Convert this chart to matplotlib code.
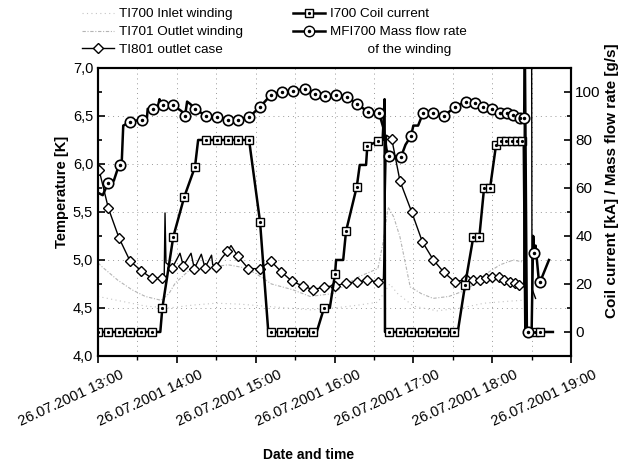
import matplotlib
matplotlib.use("Agg")
import matplotlib.pyplot as plt
from matplotlib.lines import Line2D
from matplotlib.legend_handler import HandlerTuple
from matplotlib.ticker import FuncFormatter, MultipleLocator
from matplotlib.transforms import ScaledTranslation

plt.rcParams['font.family'] = ['Liberation Sans', 'DejaVu Sans']

# time in hours after 26.07.2001 13:00
hour_ticks = [0, 1, 2, 3, 4, 5, 6]
hour_labels = ["26.07.2001 13:00", "26.07.2001 14:00", "26.07.2001 15:00",
               "26.07.2001 16:00", "26.07.2001 17:00", "26.07.2001 18:00",
               "26.07.2001 19:00"]

# MFI700 mass flow rate [g/s] (right axis)
flow_t = [0.00, 0.06, 0.127, 0.20, 0.24, 0.279, 0.30, 0.32, 0.406, 0.47, 0.558, 0.62, 0.63,
          0.698, 0.76, 0.78, 0.79, 0.825, 0.951, 1.06, 1.104, 1.13, 1.17, 1.230, 1.370, 1.510,
          1.649, 1.776, 1.916, 2.055, 2.195, 2.334, 2.474, 2.626, 2.753, 2.880, 3.019, 3.159,
          3.286, 3.425, 3.565, 3.62, 3.66, 3.692, 3.844, 3.90, 3.971, 4.00, 4.06, 4.123, 4.250,
          4.389, 4.529, 4.60, 4.668, 4.782, 4.884, 4.998, 5.100, 5.188, 5.265, 5.354, 5.405,
          5.415, 5.44, 5.455, 5.50, 5.52, 5.531, 5.55, 5.59, 5.607, 5.72]
flow_v = [58, 57, 62, 63, 67, 69.6, 70, 86, 87.5, 88, 88.5, 89, 93,
          93, 94, 97, 94, 94.5, 94.5, 92, 90, 96, 95, 93, 90, 89.5,
          88.5, 88.5, 89.5, 93.8, 98.8, 100, 100.4, 101.3, 99, 98.3, 98.8, 98,
          95, 91.7, 91.2, 85, 76, 73.3, 73, 78, 81.7, 86, 86, 91.2, 91.2,
          90, 93.8, 95, 95.8, 95.4, 93.8, 92.9, 91.2, 91.2, 90.4, 89.2, 89.2,
          115, 0, 0, 0, 40, 32.9, 36, 22, 20.8, 30]
flow_mt = [0.127, 0.279, 0.406, 0.558, 0.698, 0.825, 0.951, 1.104, 1.230, 1.370, 1.510, 1.649,
           1.776, 1.916, 2.055, 2.195, 2.334, 2.474, 2.626, 2.753, 2.880, 3.019, 3.159, 3.286,
           3.425, 3.565, 3.692, 3.844, 3.971, 4.123, 4.250, 4.389, 4.529, 4.668, 4.782, 4.884,
           4.998, 5.100, 5.188, 5.265, 5.354, 5.405, 5.455, 5.531, 5.607]
flow_mv = [62, 69.6, 87.5, 88.5, 93, 94.5, 94.5, 90, 93, 90, 89.5, 88.5,
           88.5, 89.5, 93.8, 98.8, 100, 100.4, 101.3, 99, 98.3, 98.8, 98, 95,
           91.7, 91.2, 73.3, 73, 81.7, 91.2, 91.2, 90, 93.8, 95.8, 95.4, 93.8,
           92.9, 91.2, 91.2, 90.4, 89.2, 89.2, 0, 32.9, 20.8]

# I700 coil current [kA] (right axis)
cur_t = [0.004, 0.131, 0.266, 0.406, 0.545, 0.681, 0.79, 0.816, 0.955, 1.095, 1.230, 1.27,
         1.370, 1.506, 1.645, 1.780, 1.916, 2.055, 2.16, 2.191, 2.321, 2.457, 2.597, 2.731,
         2.774, 2.867, 2.94, 3.006, 3.02, 3.11, 3.146, 3.282, 3.32, 3.40, 3.416, 3.556, 3.61,
         3.635, 3.64, 3.695, 3.831, 3.971, 4.114, 4.254, 4.389, 4.520, 4.563, 4.656, 4.761,
         4.837, 4.897, 4.973, 5.049, 5.108, 5.176, 5.248, 5.311, 5.375, 5.40, 5.42, 5.544,
         5.607, 5.77]
cur_v = [0, 0, 0, 0, 0, 0, 0, 10, 39.7, 56.4, 68.8, 80,
         80, 80, 80, 80, 80, 46, 0, 0, 0, 0, 0, 0,
         0, 10, 10, 24, 30, 30, 42, 60.5, 69.6, 69.6, 77.5, 79.6, 80,
         97, 0, 0, 0, 0, 0, 0, 0, 0, 0, 19.6, 39.7,
         39.7, 60, 60, 78, 79.6, 79.6, 79.6, 79.6, 79.6, 80, 0, 0,
         0, 0]
cur_mt = [0.004, 0.131, 0.266, 0.406, 0.545, 0.681, 0.816, 0.955, 1.095, 1.230, 1.370, 1.506,
          1.645, 1.780, 1.916, 2.055, 2.191, 2.321, 2.457, 2.597, 2.731, 2.867, 3.006, 3.146,
          3.282, 3.416, 3.556, 3.695, 3.831, 3.971, 4.114, 4.254, 4.389, 4.520, 4.656, 4.761,
          4.837, 4.897, 4.973, 5.049, 5.108, 5.176, 5.248, 5.311, 5.375, 5.544, 5.607]
cur_mv = [0, 0, 0, 0, 0, 0, 10, 39.7, 56.4, 68.8, 80, 80,
          80, 80, 80, 46, 0, 0, 0, 0, 0, 10, 24, 42,
          60.5, 77.5, 79.6, 0, 0, 0, 0, 0, 0, 0, 19.6, 39.7,
          39.7, 60, 60, 78, 79.6, 79.6, 79.6, 79.6, 79.6, 0, 0]

# TI801 outlet case [K]
case_t = [0.013, 0.131, 0.266, 0.406, 0.545, 0.681, 0.808, 0.84, 0.85, 0.862, 0.943, 1.04,
          1.082, 1.18, 1.222, 1.31, 1.357, 1.44, 1.455, 1.497, 1.57, 1.640, 1.687, 1.772,
          1.907, 2.055, 2.191, 2.321, 2.457, 2.597, 2.731, 2.867, 3.006, 3.146, 3.282, 3.416,
          3.556, 3.62, 3.66, 3.726, 3.831, 3.979, 4.114, 4.254, 4.389, 4.529, 4.664, 4.761,
          4.846, 4.918, 4.994, 5.091, 5.150, 5.226, 5.290, 5.341, 5.40, 5.41, 5.50, 5.505, 5.55]
case_v = [5.94, 5.54, 5.23, 4.99, 4.89, 4.81, 4.81, 4.85, 5.49, 4.97, 4.92, 5.07,
          4.94, 5.07, 4.91, 5.06, 4.92, 5.05, 4.95, 4.93, 5.02, 5.09, 5.15, 5.04,
          4.91, 4.91, 4.99, 4.88, 4.78, 4.73, 4.69, 4.72, 4.73, 4.76, 4.77, 4.79,
          4.77, 4.80, 6.30, 6.26, 5.82, 5.50, 5.19, 5.00, 4.87, 4.77, 4.80, 4.79,
          4.79, 4.81, 4.82, 4.82, 4.79, 4.77, 4.76, 4.74, 4.72, 7.30, 7.30, 4.70, 4.60]
case_mt = [0.013, 0.131, 0.266, 0.406, 0.545, 0.681, 0.808, 0.943, 1.082, 1.222, 1.357, 1.497,
           1.640, 1.772, 1.907, 2.055, 2.191, 2.321, 2.457, 2.597, 2.731, 2.867, 3.006, 3.146,
           3.282, 3.416, 3.556, 3.726, 3.831, 3.979, 4.114, 4.254, 4.389, 4.529, 4.664, 4.761,
           4.846, 4.918, 4.994, 5.091, 5.150, 5.226, 5.290, 5.341]
case_mv = [5.94, 5.54, 5.23, 4.99, 4.89, 4.81, 4.81, 4.92, 4.94, 4.91, 4.92, 4.93,
           5.09, 5.04, 4.91, 4.91, 4.99, 4.88, 4.78, 4.73, 4.69, 4.72, 4.73, 4.76,
           4.77, 4.79, 4.77, 6.26, 5.82, 5.50, 5.19, 5.00, 4.87, 4.77, 4.80, 4.79,
           4.79, 4.81, 4.82, 4.82, 4.79, 4.77, 4.76, 4.74]

# TI701 outlet winding [K]
outlet_t = [0.0, 0.05, 0.25, 0.43, 0.6, 0.8, 0.9, 0.98, 1.14, 1.4, 1.65, 1.85, 2.0, 2.2, 2.47,
            2.69, 2.98, 3.15, 3.32, 3.55, 3.62, 3.68, 3.75, 3.83, 3.96, 4.1, 4.25, 4.45, 4.68,
            4.93, 5.1, 5.27, 5.38]
outlet_v = [4.97, 4.93, 4.79, 4.69, 4.62, 4.58, 4.65, 4.76, 4.88, 4.92, 4.95, 4.92, 4.86, 4.75,
            4.69, 4.62, 4.65, 4.75, 4.83, 4.91, 5.20, 5.55, 5.45, 5.24, 4.72, 4.65, 4.60, 4.62,
            4.69, 4.86, 4.95, 5.00, 4.98]

# TI700 inlet winding [K]
inlet_t = [0.0, 0.3, 0.6, 0.9, 1.2, 1.5, 1.8, 2.1, 2.4, 2.7, 3.0, 3.3, 3.55, 3.7, 3.8, 4.0,
           4.3, 4.6, 4.9, 5.2, 5.38]
inlet_v = [4.62, 4.57, 4.52, 4.50, 4.53, 4.55, 4.54, 4.52, 4.50, 4.48, 4.50, 4.53, 4.56, 4.75,
           4.65, 4.52, 4.47, 4.50, 4.55, 4.57, 4.58]

fig = plt.figure(figsize=(6.18, 4.66), dpi=100)
ax = fig.add_axes([0.1586, 0.2361, 0.7654, 0.6180])
ax2 = ax.twinx()

ax.plot(inlet_t, inlet_v, color='#c4c4c4', lw=0.8, ls=(0, (1, 3)))
ax.plot(outlet_t, outlet_v, color='#b4b4b4', lw=0.8, ls=(0, (3, 1.5, 1, 1.5)))
ax.plot(case_t, case_v, color='black', lw=1.0)
ax.plot(case_mt, case_mv, ls='none', marker='D', ms=5.5, mfc='white', mec='black', mew=1.0)

ax2.plot(cur_t, cur_v, color='black', lw=1.8)
ax2.plot(cur_mt, cur_mv, ls='none', marker='s', ms=5.5, mfc='white', mec='black', mew=1.0)
ax2.plot(cur_mt, cur_mv, ls='none', marker='o', ms=1.3, color='black')
ax2.plot(flow_t, flow_v, color='black', lw=1.8)
ax2.plot(flow_mt, flow_mv, ls='none', marker='o', ms=7.5, mfc='white', mec='black', mew=1.2)
ax2.plot(flow_mt, flow_mv, ls='none', marker='o', ms=1.5, color='black')

ax.set_xlim(0, 6)
ax.set_ylim(4.0, 7.0)
ax2.set_ylim(-10, 110)

ax.set_xticks(hour_ticks)
ax.set_xticklabels(hour_labels, rotation=25, ha='right', fontsize=10.5)
ax.xaxis.set_minor_locator(MultipleLocator(0.5))
ax.yaxis.set_major_locator(MultipleLocator(0.5))
ax.yaxis.set_minor_locator(MultipleLocator(0.25))
ax.yaxis.set_major_formatter(FuncFormatter(lambda v, p: f"{v:.1f}".replace('.', ',')))
ax2.set_yticks([0, 20, 40, 60, 80, 100])
ax2.yaxis.set_minor_locator(MultipleLocator(10))

ax.tick_params(axis='y', which='both', direction='in', labelsize=10.5, width=1.2)
ax.tick_params(axis='y', which='major', length=5)
ax.tick_params(axis='y', which='minor', length=3)
ax.tick_params(axis='x', which='major', direction='out', length=5, width=1.2)
ax.tick_params(axis='x', which='minor', direction='out', length=3, width=1.0)
ax2.tick_params(axis='y', which='both', direction='in', labelsize=11, width=1.2, pad=3)
ax2.tick_params(axis='y', which='major', length=5)
ax2.tick_params(axis='y', which='minor', length=3)

for lab in ax.get_xticklabels():
    lab.set_transform(lab.get_transform() + ScaledTranslation(0.28, 0, fig.dpi_scale_trans))

ax.grid(True, which='major', axis='y', color='#999999', ls=(0, (1, 4)), lw=0.7)
ax.grid(True, which='both', axis='x', color='#999999', ls=(0, (1, 4)), lw=0.7)

for a in (ax, ax2):
    for s in a.spines.values():
        s.set_linewidth(1.5)

ax.set_ylabel("Temperature [K]", fontsize=10.5, fontweight='bold')
ax.yaxis.set_label_coords(-0.062, 0.57)
ax2.set_ylabel("Coil current [kA] / Mass flow rate [g/s]", fontsize=11, fontweight='bold')
ax2.yaxis.set_label_coords(1.072, 0.61)
fig.text(0.5, 0.023, "Date and time", ha='center', va='center', fontsize=10, fontweight='bold')

# legends
h_inlet = Line2D([], [], color='#c4c4c4', lw=0.8, ls=(0, (1, 3)))
h_outlet = Line2D([], [], color='#b4b4b4', lw=0.8, ls=(0, (3, 1.5, 1, 1.5)))
h_case = Line2D([], [], color='black', lw=1.0, marker='D', ms=5.5, mfc='white', mec='black')
h_cur = (Line2D([], [], color='black', lw=1.8, marker='s', ms=5.5, mfc='white', mec='black'),
         Line2D([], [], ls='none', marker='o', ms=1.3, color='black'))
h_flow = (Line2D([], [], color='black', lw=1.8, marker='o', ms=7.5, mfc='white', mec='black'),
          Line2D([], [], ls='none', marker='o', ms=1.5, color='black'))
h_blank = Line2D([], [], ls='none')

leg_kw = dict(loc='upper left', frameon=False, fontsize=9.7, borderpad=0, borderaxespad=0,
              labelspacing=0.4, handlelength=2.4, handletextpad=0.35, numpoints=1,
              handler_map={tuple: HandlerTuple(ndivide=1)})
fig.legend([h_inlet, h_outlet, h_case],
           ["TI700 Inlet winding", "TI701 Outlet winding", "TI801 outlet case"],
           bbox_to_anchor=(82 / 618, 1 - 8 / 466), **leg_kw)
fig.legend([h_cur, h_flow, h_blank],
           ["I700 Coil current", "MFI700 Mass flow rate", "          of the winding"],
           bbox_to_anchor=(293 / 618, 1 - 8 / 466), **leg_kw)

fig.savefig("out.png", dpi=100)
